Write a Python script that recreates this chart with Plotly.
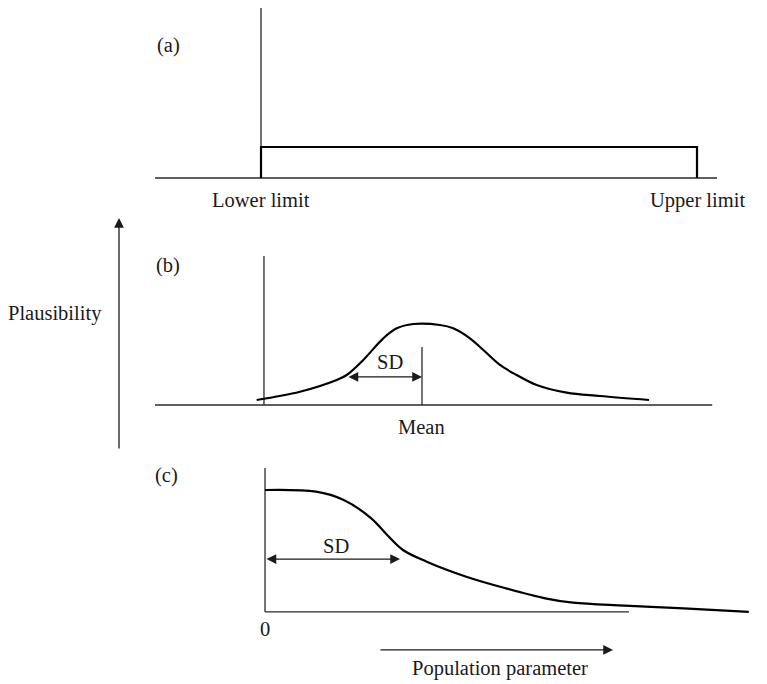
import plotly.graph_objects as go

# ---------------- data ----------------
# Panel (a): uniform prior between limits (units: lower limit = 0, upper limit = 10)
a_x = [0, 0, 10, 10]
a_y = [0, 1, 1, 0]

# Panel (b): normal-ish prior (units: mean = 0, SD = 1)
b_x = [-2.204, -1.627, -1.137, -1.004, -0.783, -0.516, -0.337, -0.116, 0.24,
       0.417, 0.64, 0.818, 1.04, 1.263, 1.529, 1.929, 2.373, 3.027]
b_y = [0.062, 0.164, 0.309, 0.370, 0.556, 0.823, 0.947, 1.0, 0.988,
       0.947, 0.823, 0.679, 0.494, 0.370, 0.247, 0.152, 0.111, 0.062]

# Panel (c): half-normal-ish prior (units: 0 = zero, SD = 1)
c_x = [0, 0.378, 0.583, 0.787, 0.905, 1.022, 1.198, 1.491, 1.783, 2.076,
       2.281, 2.662, 3.101, 3.584]
c_y = [1.0, 0.986, 0.918, 0.768, 0.631, 0.508, 0.412, 0.289, 0.194, 0.112,
       0.076, 0.052, 0.030, 0.0]

FONT = "Liberation Serif"
FS = 20.5
AX_COL = "#2a2a2a"
AX_W = 1.3
CURVE_W = 2.2

fig = go.Figure()

def line(x, y, xa, ya, width=AX_W, color=AX_COL, shape="linear"):
    fig.add_trace(go.Scatter(x=x, y=y, xaxis=xa, yaxis=ya, mode="lines",
                             line=dict(color=color, width=width, shape=shape),
                             hoverinfo="skip", showlegend=False))

# ---- panel (a) ----
line([-2.43, 10.46], [0, 0], "x", "y")
line([0, 0], [0, 5.48], "x", "y")
line(a_x, a_y, "x", "y", width=CURVE_W, color="black")

# ---- panel (b) ----
line([-3.56, 3.87], [0, 0], "x2", "y2")
line([-2.107, -2.107], [0, 1.84], "x2", "y2")
line([0, 0], [0, 0.716], "x2", "y2")
line(b_x, b_y, "x2", "y2", width=CURVE_W, color="black", shape="spline")

# ---- panel (c) ----
line([0, 2.696], [0, 0], "x3", "y3")
line([0, 0], [0, 1.18], "x3", "y3")
line(c_x, c_y, "x3", "y3", width=CURVE_W, color="black", shape="spline")

ann = []
def text(t, x, y, xr, yr, **kw):
    ann.append(dict(text=t, x=x, y=y, xref=xr, yref=yr, showarrow=False,
                    xanchor="center", yanchor="middle",
                    font=dict(family=FONT, size=FS, color="#1a1a1a"), **kw))

text("(a)", -2.13, 4.29, "x", "y")
text("Lower limit", 0, -0.71, "x", "y")
text("Upper limit", 10, -0.71, "x", "y")
text("(b)", -3.387, 1.728, "x2", "y2")
text("SD", -0.42, 0.53, "x2", "y2")
text("Mean", 0, -0.27, "x2", "y2")
text("(c)", -0.733, 1.115, "x3", "y3")
text("SD", 0.526, 0.54, "x3", "y3")
text("0", 0, -0.139, "x3", "y3")
text("Population parameter", 1.741, -0.467, "x3", "y3")
text("Plausibility", (55 - 8) / 767, 1 - (313 - 8) / 684, "paper", "paper")

def arrow(x0, y0, x1, y1, xr, yr, both=False):
    ann.append(dict(x=x1, y=y1, ax=x0, ay=y0, xref=xr, yref=yr, axref=xr, ayref=yr,
                    text="", showarrow=True, arrowhead=2, arrowsize=1.5,
                    arrowwidth=1.3, arrowcolor="#1a1a1a",
                    arrowside="end+start" if both else "end",
                    standoff=0, startstandoff=0))

arrow(-1.0, 0.346, 0, 0.346, "x2", "y2", both=True)
arrow(0, 0.434, 1.0, 0.434, "x3", "y3", both=True)
arrow(0.844, -0.311, 2.578, -0.311, "x3", "y3")

# Plausibility arrow (paper coordinates, pixel offset tail)
ann.append(dict(x=(119 - 8) / 767, y=1 - (218 - 8) / 684, xref="paper", yref="paper",
                ax=0, ay=232, text="", showarrow=True, arrowhead=2,
                arrowsize=1.5, arrowwidth=1.3, arrowcolor="#1a1a1a", standoff=0))

def xa(r):
    return dict(range=r, domain=[0, 1], visible=False, fixedrange=True)

def ya(r, anchor):
    return dict(range=r, domain=[0, 1], visible=False, anchor=anchor, fixedrange=True)

fig.update_layout(
    width=767, height=684,
    margin=dict(l=0, r=0, t=0, b=0),
    paper_bgcolor="white", plot_bgcolor="white",
    xaxis=xa([-5.803, 11.789]),
    yaxis=ya([-16.58, 5.484], "x"),
    xaxis2=dict(xa([-5.52, 4.707]), anchor="y2", overlaying="x"),
    yaxis2=dict(ya([-3.543, 4.901], "x2"), overlaying="y"),
    xaxis3=dict(xa([-1.904, 3.778]), anchor="y3", overlaying="x"),
    yaxis3=dict(ya([-0.656, 4.951], "x3"), overlaying="y"),
    annotations=ann,
    showlegend=False,
)

fig.write_html("out.html")
